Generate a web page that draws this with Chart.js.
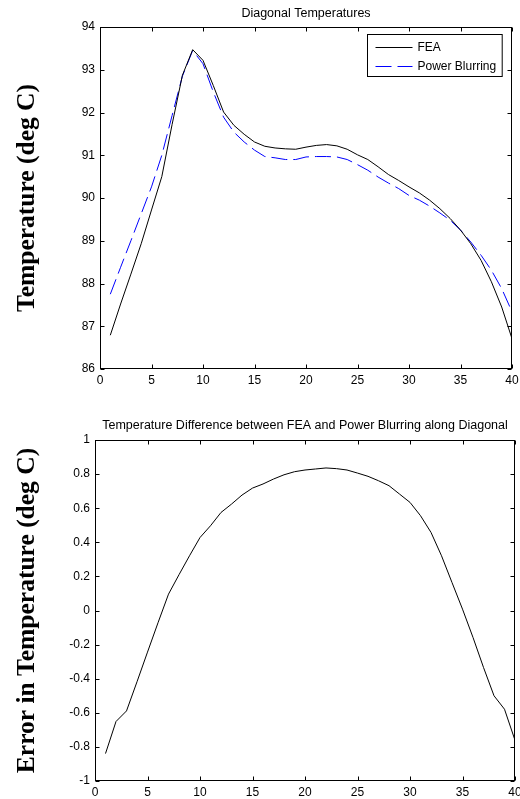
<!DOCTYPE html>
<html>
<head>
<meta charset="utf-8">
<script src="https://cdn.jsdelivr.net/npm/chart.js@4/dist/chart.umd.min.js"></script>
<style>
  html, body { margin: 0; padding: 0; background: #fff; }
  #wrap { position: relative; width: 520px; height: 799px; background: #fff; }
  #c1 { position: absolute; left: 0; top: 0; }
  #c2 { position: absolute; left: 0; top: 400px; }
</style>
</head>
<body>
<div id="wrap">
  <canvas id="c1" width="520" height="400"></canvas>
  <canvas id="c2" width="520" height="399"></canvas>
</div>
<script>
// ---- data ----
const positions = [1,2,3,4,5,6,7,8,9,10,11,12,13,14,15,16,17,18,19,20,
                   21,22,23,24,25,26,27,28,29,30,31,32,33,34,35,36,37,38,39,40];
const feaTemps = [86.79, 87.52, 88.22, 88.93, 89.72, 90.50, 91.72, 92.87, 93.47, 93.22,
                  92.63, 92.01, 91.70, 91.49, 91.31, 91.21, 91.17, 91.15, 91.14, 91.19,
                  91.23, 91.25, 91.22, 91.14, 91.01, 90.90, 90.73, 90.55, 90.41, 90.26,
                  90.12, 89.95, 89.75, 89.52, 89.25, 88.93, 88.54, 88.04, 87.45, 86.71];
const blurTemps = [87.75, 88.38, 89.00, 89.63, 90.26, 91.00, 91.93, 92.85, 93.45, 93.14,
                   92.48, 91.89, 91.54, 91.31, 91.12, 90.97, 90.94, 90.90, 90.90, 90.96,
                   90.97, 90.97, 90.96, 90.90, 90.78, 90.65, 90.49, 90.35, 90.22, 90.06,
                   89.95, 89.81, 89.65, 89.48, 89.25, 88.97, 88.66, 88.31, 87.88, 87.34];
const tempError = [-0.839, -0.651, -0.589, -0.418, -0.244, -0.072, 0.096, 0.210, 0.321, 0.428,
                   0.497, 0.575, 0.624, 0.677, 0.718, 0.742, 0.771, 0.796, 0.814, 0.824,
                   0.830, 0.836, 0.832, 0.824, 0.806, 0.787, 0.761, 0.732, 0.683, 0.634,
                   0.556, 0.458, 0.321, 0.164, 0.008, -0.158, -0.334, -0.500, -0.579, -0.761];
const seriesNames = ['FEA', 'Power Blurring'];
const titles = ['Diagonal Temperatures',
                'Temperature Difference between FEA and Power Blurring along Diagonal'];
const yTitles = ['Temperature (deg C)', 'Error in Temperature (deg C)'];
const xTickRange = [0, 40, 5];
const yTickRange1 = [86, 94, 1];
const yTickRange2 = [-1, 1, 0.2];

// ---- MATLAB-like box, inward ticks, and boxed legend ----
const matlabAxes = {
  id: 'matlabAxes',
  afterDatasetsDraw(chart, args, opts) {
    const {ctx, chartArea: a, scales: {x, y}} = chart;
    const L = Math.round(a.left) + 0.5, R = Math.round(a.right) - 0.5;
    const T = Math.round(a.top) + 0.5, B = Math.round(a.bottom) - 0.5;
    const tl = 4;
    ctx.save();
    ctx.strokeStyle = '#000';
    ctx.lineWidth = 1;
    ctx.setLineDash([]);
    ctx.beginPath();
    x.ticks.forEach(t => {
      const px = Math.round(x.getPixelForValue(t.value)) + 0.5;
      ctx.moveTo(px, B); ctx.lineTo(px, B - tl);
      ctx.moveTo(px, T); ctx.lineTo(px, T + tl);
    });
    y.ticks.forEach(t => {
      const py = Math.round(y.getPixelForValue(t.value)) + 0.5;
      ctx.moveTo(L, py); ctx.lineTo(L + tl, py);
      ctx.moveTo(R, py); ctx.lineTo(R - tl, py);
    });
    ctx.stroke();
    ctx.strokeRect(L, T, R - L, B - T);

    if (opts && opts.legend) {
      ctx.font = '12px "Liberation Sans", Arial, sans-serif';
      const ds = chart.data.datasets;
      const tw = Math.max(...ds.map(d => ctx.measureText(d.label).width));
      const w = 50 + tw + 6, h = 42;
      const bx = Math.round(a.right - 10 - w) + 0.5, by = Math.round(a.top + 7) + 0.5;
      ctx.fillStyle = '#fff';
      ctx.fillRect(bx, by, w, h);
      ctx.strokeStyle = '#000';
      ctx.strokeRect(bx, by, w, h);
      ds.forEach((d, i) => {
        const ly = Math.round(by + 12.5 + i * 19) + 0.5;
        ctx.strokeStyle = d.borderColor;
        ctx.lineWidth = d.borderWidth || 1;
        ctx.setLineDash(d.borderDash || []);
        ctx.beginPath();
        ctx.moveTo(bx + 8, ly); ctx.lineTo(bx + 45, ly);
        ctx.stroke();
        ctx.setLineDash([]);
        ctx.fillStyle = '#000';
        ctx.textBaseline = 'middle';
        ctx.textAlign = 'left';
        ctx.fillText(d.label, bx + 50, ly);
      });
    }
    ctx.restore();
  }
};

const tickFont = { family: '"Liberation Sans", Arial, sans-serif', size: 12 };
const titleFont = { family: '"Liberation Sans", Arial, sans-serif', size: 12.5, weight: 'normal' };
const yTitleFont = { family: '"Liberation Serif", "Times New Roman", serif', size: 25.5, weight: 'bold' };
const fmtTick = v => String(Number(v.toFixed(1)));

function makeChart(id, datasets, cfg) {
  return new Chart(document.getElementById(id), {
    type: 'line',
    data: { datasets },
    options: {
      responsive: false,
      animation: false,
      devicePixelRatio: 1,
      layout: { padding: { left: 0, right: cfg.padRight, top: 0, bottom: 0 } },
      elements: { point: { radius: 0 }, line: { tension: 0 } },
      plugins: {
        legend: { display: false },
        tooltip: { enabled: false },
        title: {
          display: true, text: cfg.title, color: '#000', font: titleFont,
          fullSize: false, padding: { top: cfg.titleTop, bottom: cfg.titleBottom }
        },
        matlabAxes: { legend: cfg.legend }
      },
      scales: {
        x: {
          type: 'linear', min: xTickRange[0], max: xTickRange[1],
          grid: { display: false, drawTicks: false },
          border: { display: false },
          ticks: { stepSize: xTickRange[2], color: '#000', font: tickFont, padding: 4, maxRotation: 0,
                   callback: fmtTick },
          afterFit: s => { s.height = cfg.xHeight; s.paddingLeft = 0; s.paddingRight = 0; }
        },
        y: {
          type: 'linear', min: cfg.yRange[0], max: cfg.yRange[1],
          grid: { display: false, drawTicks: false },
          border: { display: false },
          ticks: { stepSize: cfg.yRange[2], color: '#000', font: tickFont, padding: 5, callback: fmtTick },
          title: { display: true, text: cfg.yTitle, color: '#000', font: yTitleFont, padding: { top: 12, bottom: 0 } },
          afterFit: s => { s.width = cfg.yWidth; s.paddingTop = 0; s.paddingBottom = 0; }
        }
      }
    },
    plugins: [matlabAxes]
  });
}

const toPts = (xs, vs) => xs.map((v, i) => ({ x: v, y: vs[i] }));

makeChart('c1', [
  { label: seriesNames[0], data: toPts(positions, feaTemps), borderColor: '#000000', borderWidth: 1, fill: false },
  { label: seriesNames[1], data: toPts(positions, blurTemps), borderColor: '#0000ff', borderWidth: 1, borderDash: [16, 6], fill: false }
], { title: titles[0], titleTop: 6, titleBottom: 6, yRange: yTickRange1, yTitle: yTitles[0],
     yWidth: 100, xHeight: 31, padRight: 8, legend: true });

makeChart('c2', [
  { label: 'Difference', data: toPts(positions, tempError), borderColor: '#000000', borderWidth: 1, fill: false }
], { title: titles[1], titleTop: 18, titleBottom: 7, yRange: yTickRange2, yTitle: yTitles[1],
     yWidth: 95, xHeight: 18, padRight: 5, legend: false });
</script>
</body>
</html>
